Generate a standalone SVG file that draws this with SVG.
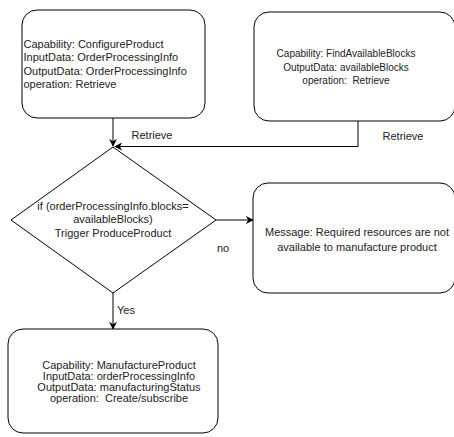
<svg xmlns="http://www.w3.org/2000/svg" width="454" height="437" viewBox="0 0 454 437">
  <style>
    .shape { fill: #ffffff; stroke: #000000; stroke-width: 1; }
    .edge { fill: none; stroke: #000000; stroke-width: 1; }
    text { font-family: "Liberation Sans", Arial, sans-serif; font-size: 11px; fill: #222222; }
    .mid { text-anchor: middle; }
    .small { font-size: 10px; }
  </style>
  <defs>
    <marker id="arrow" viewBox="0 0 10 10" refX="9" refY="5" markerWidth="8" markerHeight="8" markerUnits="userSpaceOnUse" orient="auto">
      <path d="M0,0 L10,5 L0,10 L3,5 Z" fill="#000000"/>
    </marker>
  </defs>
  <rect width="454" height="437" fill="#ffffff"/>

  <!-- connectors -->
  <g id="connectors">
    <path class="edge" d="M113,118 L113,146" marker-end="url(#arrow)"/>
    <path class="edge" d="M358,121 L358,146.5 L115,146.5" marker-end="url(#arrow)"/>
    <path class="edge" d="M216,220 L253,220" marker-end="url(#arrow)"/>
    <path class="edge" d="M113,293 L113,329" marker-end="url(#arrow)"/>
    <text class="mid" x="152" y="139">Retrieve</text>
    <text class="mid" x="403" y="140">Retrieve</text>
    <text class="mid" x="223" y="252">no</text>
    <text x="117" y="314">Yes</text>
  </g>

  <!-- capability: ConfigureProduct -->
  <g id="configure-product">
    <rect class="shape" x="22" y="10" width="183" height="108" rx="15" ry="15"/>
    <text x="23.5" y="48">Capability: ConfigureProduct</text>
    <text x="23.5" y="61.3">InputData: OrderProcessingInfo</text>
    <text x="23.5" y="74.6">OutputData: OrderProcessingInfo</text>
    <text x="23.5" y="88">operation: Retrieve</text>
  </g>

  <!-- capability: FindAvailableBlocks -->
  <g id="find-available-blocks">
    <rect class="shape" x="254" y="12" width="201" height="109" rx="15" ry="15"/>
    <text class="mid small" x="346" y="57">Capability: FindAvailableBlocks</text>
    <text class="mid small" x="346" y="70.5">OutputData: availableBlocks</text>
    <text class="mid small" x="346" y="84" xml:space="preserve">operation:  Retrieve</text>
  </g>

  <!-- decision -->
  <g id="decision">
    <path class="shape" d="M113,147 L216,220 L113,293 L11,220 Z"/>
    <text class="mid" x="113" y="209.5">if (orderProcessingInfo.blocks=</text>
    <text class="mid" x="113" y="223">availableBlocks)</text>
    <text class="mid" x="113" y="236.5">Trigger ProduceProduct</text>
  </g>

  <!-- message -->
  <g id="message">
    <rect class="shape" x="253" y="183" width="202" height="110" rx="15" ry="15"/>
    <text class="mid" x="357" y="235.7">Message: Required resources are not</text>
    <text class="mid" x="357" y="251">available to manufacture product</text>
  </g>

  <!-- capability: ManufactureProduct -->
  <g id="manufacture-product">
    <rect class="shape" x="8" y="329" width="210" height="104" rx="15" ry="15"/>
    <text class="mid" x="119" y="368.5">Capability: ManufactureProduct</text>
    <text class="mid" x="119" y="379.5">InputData: orderProcessingInfo</text>
    <text class="mid" x="119" y="390.5">OutputData: manufacturingStatus</text>
    <text class="mid" x="119" y="401.5" xml:space="preserve">operation:  Create/subscribe</text>
  </g>
</svg>
